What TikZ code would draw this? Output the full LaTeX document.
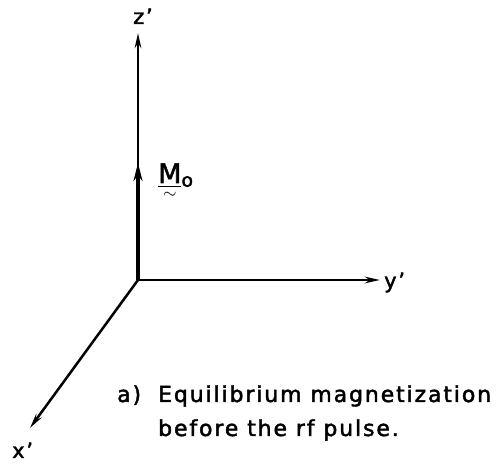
\documentclass[tikz,border=0pt]{standalone}
\usepackage{amsmath}
\usepackage{fontspec}
\setmainfont[LetterSpace=8.5, FakeBold=2]{DejaVu Sans}
\usetikzlibrary{arrows.meta}

\begin{document}
\begin{tikzpicture}[
    x=1pt, y=1pt,
    axis/.style={line width=2.5pt, -{Stealth[length=15pt, width=6.5pt]}},
    mvec/.style={line width=4.5pt, -{Stealth[length=18pt, width=9pt]}},
    lbl/.style={font=\fontsize{21}{25}\selectfont, inner sep=0pt, anchor=base west},
    capt/.style={font=\fontsize{22}{34}\selectfont, inner sep=0pt, anchor=base west}
  ]
  \useasboundingbox (0, 0) rectangle (499, 471);

  % Origin and axis ends
  \coordinate (o) at (138, 191);
  \coordinate (zend) at (138, 438);
  \coordinate (yend) at (380, 191);
  \coordinate (xend) at (30, 43);
  \coordinate (mend) at (138, 308);

  % Axes
  \draw[axis] (o) -- (zend);
  \draw[axis] (o) -- (yend);
  \draw[axis] (o) -- (xend);

  % Equilibrium magnetization
  \draw[mvec] (o) -- (mend);

  % Labels
  \node[lbl] (zlbl) at (133, 447) {z’};
  \node[lbl] (ylbl) at (384, 183) {y’};
  \node[lbl] (xlbl) at (12, 13) {x’};
  \node[lbl, font=\fontsize{27}{30}\selectfont] (mlbl) at (158, 288)
    {\rlap{\raisebox{-16pt}{\hspace{5pt}\fontsize{17}{17}\selectfont$\sim$}}%
     \underline{M}\textsubscript{o}};

  % Caption
  \node[capt] (capt) at (117, 69)
    {\begin{tabular}[t]{@{}p{41pt}@{}l@{}}
       a) & Equilibrium magnetization\\
          & before the rf pulse.
     \end{tabular}};
\end{tikzpicture}
\end{document}
